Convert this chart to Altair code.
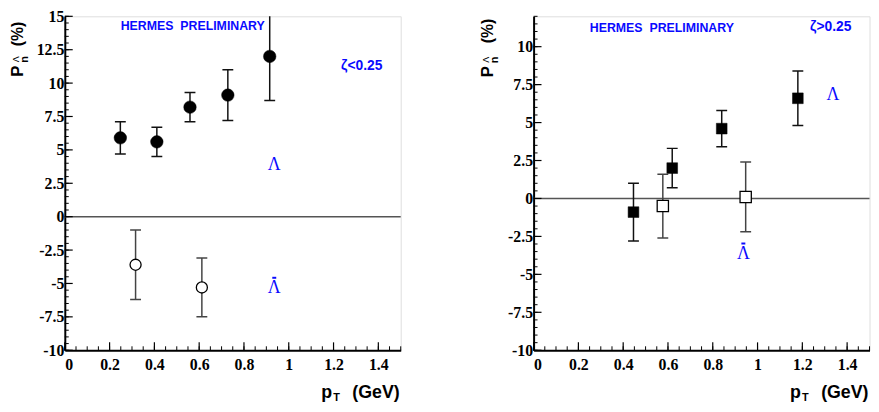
import altair as alt
import pandas as pd

# ---------------- data ----------------
# left panel (zeta < 0.25)
L_lam_pt = [0.248, 0.411, 0.559, 0.728, 0.915]
L_lam_P = [5.9, 5.6, 8.2, 9.1, 12.0]
L_lam_lo = [4.7, 4.5, 7.1, 7.2, 8.7]
L_lam_hi = [7.1, 6.7, 9.3, 11.0, 15.3]

L_bar_pt = [0.316, 0.612]
L_bar_P = [-3.6, -5.3]
L_bar_lo = [-6.2, -7.5]
L_bar_hi = [-1.0, -3.1]

# right panel (zeta > 0.25)
R_lam_pt = [0.446, 0.619, 0.840, 1.180]
R_lam_P = [-0.9, 2.0, 4.6, 6.6]
R_lam_lo = [-2.8, 0.7, 3.4, 4.8]
R_lam_hi = [1.0, 3.3, 5.8, 8.4]

R_bar_pt = [0.577, 0.947]
R_bar_P = [-0.5, 0.1]
R_bar_lo = [-2.6, -2.2]
R_bar_hi = [1.6, 2.4]

x_major = [0, 0.2, 0.4, 0.6, 0.8, 1, 1.2, 1.4]
x_minor = [round(0.05 * i, 2) for i in range(31)]
L_y_major = [-10, -7.5, -5, -2.5, 0, 2.5, 5, 7.5, 10, 12.5, 15]
R_y_major = [-10, -7.5, -5, -2.5, 0, 2.5, 5, 7.5, 10]

W, H = 340, 338
K = H / 341.0
BLUE = "#0a0aff"
SANS = "Liberation Sans"
SERIF = "Liberation Serif"


def df(**kw):
    return pd.DataFrame(kw)


def panel(lam, bar, shape, ydom, ymaj, texts, bars_px):
    xs = alt.Scale(domain=[0, 1.5], nice=False, zero=False)
    ys = alt.Scale(domain=ydom, nice=False, zero=False)
    y_minor = [round(ydom[0] + 0.5 * i, 2) for i in range(int((ydom[1] - ydom[0]) / 0.5) + 1)]

    ax_x = alt.Axis(values=x_major, labelExpr="'' + datum.value", ticks=False,
                    grid=False, title=None, labelFont=SERIF, labelFontWeight="bold",
                    labelFontSize=16, labelColor="black", labelPadding=6,
                    domainColor="black", domainWidth=2)
    ax_y = alt.Axis(values=ymaj, labelExpr="'' + datum.value", ticks=False,
                    grid=False, title=None, labelFont=SERIF, labelFontWeight="bold",
                    labelFontSize=16, labelColor="black", labelPadding=1,
                    domainColor="black", domainWidth=2)

    def X(f):
        return alt.X(f, scale=xs, axis=ax_x, title=None)

    def Y(f):
        return alt.Y(f, scale=ys, axis=ax_y, title=None)

    zero = alt.Chart(df(z=[0])).mark_rule(color="#555", strokeWidth=1.5).encode(y=Y("z:Q"))

    xt_maj = alt.Chart(df(v=x_major)).mark_rule(color="black", strokeWidth=1.2).encode(
        x=X("v:Q"), y=alt.value(H), y2=alt.value(H - 8))
    xt_min = alt.Chart(df(v=x_minor)).mark_rule(color="black", strokeWidth=1).encode(
        x=X("v:Q"), y=alt.value(H), y2=alt.value(H - 4))
    yt_maj = alt.Chart(df(v=ymaj)).mark_rule(color="black", strokeWidth=1.2).encode(
        y=Y("v:Q"), x=alt.value(0), x2=alt.value(8))
    yt_min = alt.Chart(df(v=y_minor)).mark_rule(color="black", strokeWidth=1).encode(
        y=Y("v:Q"), x=alt.value(0), x2=alt.value(4))

    layers = [zero, xt_maj, xt_min, yt_maj, yt_min]

    for (pt, P, lo, hi), filled, col in ((lam, True, "#111"), (bar, False, "#444")):
        d = df(pt=pt, P=P, lo=lo, hi=hi)
        bars = alt.Chart(d).mark_rule(color=col, strokeWidth=1.5, clip=True).encode(
            x=X("pt:Q"), y=Y("lo:Q"), y2="hi:Q")
        cap_lo = alt.Chart(d).mark_rule(color=col, strokeWidth=1.5, clip=True,
                                        xOffset=-5.5, x2Offset=5.5).encode(
            x=X("pt:Q"), x2="pt:Q", y=Y("lo:Q"))
        cap_hi = alt.Chart(d).mark_rule(color=col, strokeWidth=1.5, clip=True,
                                        xOffset=-5.5, x2Offset=5.5).encode(
            x=X("pt:Q"), x2="pt:Q", y=Y("hi:Q"))
        if shape == "circle":
            size = 160 if filled else 125
        else:
            size = 118 if filled else 130
        pts = alt.Chart(d).mark_point(shape=shape, size=size, filled=filled,
                                      fill="black" if filled else "white",
                                      stroke="black", strokeWidth=1.3 if not filled else 0.5,
                                      opacity=1).encode(x=X("pt:Q"), y=Y("P:Q"))
        layers += [bars, cap_lo, cap_hi, pts]

    for t in texts:
        txt, px, py, font, size, weight, color, angle, base = t
        kw = dict(font=font, fontSize=size, fontWeight=weight, color=color,
                  align="center", baseline=base)
        if angle:
            kw["angle"] = angle
        layers.append(alt.Chart(df(t=[txt])).mark_text(**kw).encode(
            x=alt.value(px), y=alt.value(py), text="t:N"))

    # macron over the anti-Lambda label
    for (bx, by) in bars_px:
        layers.append(alt.Chart(df(m=[0])).mark_rule(color=BLUE, strokeWidth=2).encode(
            x=alt.value(bx - 2), x2=alt.value(bx + 2), y=alt.value(by)))

    return alt.layer(*layers).properties(width=W, height=H)


def ytitle(dx, dy_p, dy_pct):
    return [
        ("P", dx, dy_p * K, SANS, 17, "bold", "black", 270, "middle"),
        ("n", dx + 7, (dy_p - 12) * K, SANS, 11, "bold", "black", 270, "middle"),
        ("\u039b", dx - 2, (dy_p - 12) * K, SANS, 9, "normal", "black", 270, "middle"),
        ("(%)", dx, dy_pct * K, SANS, 16, "bold", "black", 270, "middle"),
    ]


def xtitle():
    return [
        ("p", W - 75, H + 48.5, SANS, 18, "bold", "black", 0, "alphabetic"),
        ("T", W - 65, H + 51, SANS, 11, "bold", "black", 0, "alphabetic"),
        ("(GeV)", W - 25, H + 48.5, SANS, 18, "bold", "black", 0, "alphabetic"),
    ]


HERMES = "HERMES\u00a0 PRELIMINARY"

left_texts = [
    (HERMES, 129.5, 10 * K, SANS, 12.5, "bold", BLUE, 0, "middle"),
    ("\u03b6<0.25", 300.5, 50.5 * K, SANS, 14, "bold", BLUE, 0, "middle"),
    ("\u039b", 212, 151.5 * K, SERIF, 18, "normal", BLUE, 0, "middle"),
    ("\u039b", 212, 278 * K, SERIF, 18, "normal", BLUE, 0, "middle"),
] + ytitle(-47, 56, 18) + xtitle()

right_texts = [
    (HERMES, 129.8, 12 * K, SANS, 12.5, "bold", BLUE, 0, "middle"),
    ("\u03b6>0.25", 300.8, 11 * K, SANS, 14, "bold", BLUE, 0, "middle"),
    ("\u039b", 303, 80.5 * K, SERIF, 18, "normal", BLUE, 0, "middle"),
    ("\u039b", 212.3, 243 * K, SERIF, 18, "normal", BLUE, 0, "middle"),
] + ytitle(-46, 56.5, 15) + xtitle()

left = panel((L_lam_pt, L_lam_P, L_lam_lo, L_lam_hi), (L_bar_pt, L_bar_P, L_bar_lo, L_bar_hi),
             "circle", [-10, 15], L_y_major, left_texts, [(212, 267 * K)])
right = panel((R_lam_pt, R_lam_P, R_lam_lo, R_lam_hi), (R_bar_pt, R_bar_P, R_bar_lo, R_bar_hi),
              "square", [-10, 12], R_y_major, right_texts, [(212.3, 232 * K)])

chart = alt.hconcat(left, right, spacing=76.5).properties(
    padding={"left": 0.5, "top": -3, "right": 0, "bottom": -1}
).configure_view(stroke="#333", strokeWidth=1.5).configure(background="white")

chart.save("out.html", embed_options={"renderer": "svg", "actions": False})
